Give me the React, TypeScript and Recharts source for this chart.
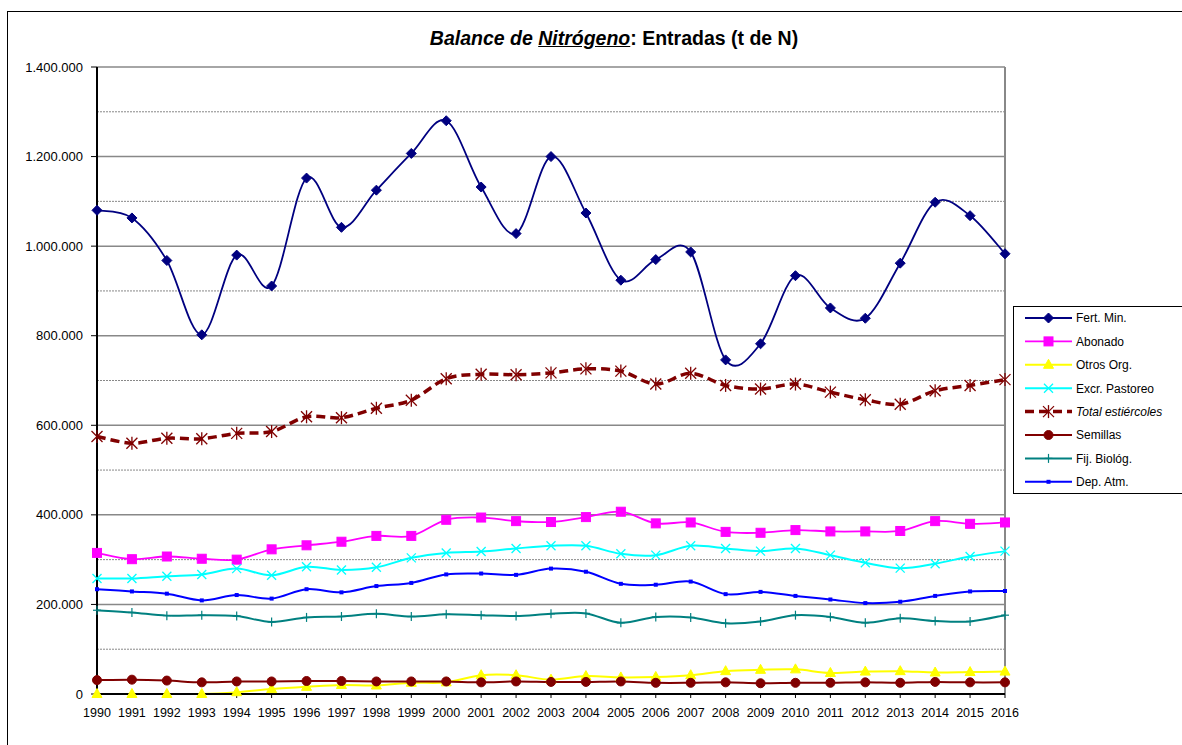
import React from 'react'
import { CartesianGrid, Line, LineChart, ReferenceLine, XAxis, YAxis } from 'recharts'

const YEARS = [
  '1990', '1991', '1992', '1993', '1994', '1995', '1996', '1997', '1998', '1999', '2000', '2001', '2002', '2003',
  '2004', '2005', '2006', '2007', '2008', '2009', '2010', '2011', '2012', '2013', '2014', '2015', '2016',
]

const FERT_MIN = [
  1080000, 1063000, 968000, 802000, 980000, 911000, 1152000, 1042000, 1125000, 1207000, 1280000, 1132000, 1028000,
  1200000, 1074000, 924000, 970000, 987000, 746000, 782000, 934000, 862000, 839000, 962000, 1098000, 1068000, 983000,
]
const ABONADO = [
  315000, 301000, 307000, 302000, 300000, 323000, 332000, 340000, 353000, 353000, 389000, 394000, 386000, 384000,
  395000, 407000, 381000, 383000, 362000, 360000, 366000, 363000, 363000, 364000, 386000, 380000, 383000,
]
const OTROS_ORG = [
  0, 0, 0, 0, 4000, 11000, 16000, 20000, 19000, 25000, 26000, 42000, 42000, 32000, 40000, 37000, 38000, 42000, 51000,
  54000, 55000, 47000, 50000, 51000, 48000, 49000, 50000,
]
const EXCR_PASTOREO = [
  258000, 258000, 263000, 267000, 280000, 265000, 284000, 277000, 283000, 304000, 315000, 318000, 325000, 331000,
  331000, 313000, 310000, 331000, 325000, 319000, 325000, 310000, 293000, 281000, 291000, 307000, 319000,
]
const TOTAL_ESTIERCOLES = [
  575000, 560000, 571000, 570000, 582000, 586000, 619000, 617000, 638000, 656000, 704000, 714000, 713000, 717000,
  726000, 721000, 692000, 716000, 689000, 681000, 692000, 674000, 657000, 647000, 677000, 689000, 702000,
]
const SEMILLAS = [
  31000, 32000, 30000, 26000, 28000, 28000, 29000, 29000, 28000, 28000, 28000, 26000, 28000, 27000, 27000, 28000,
  25000, 25000, 26000, 24000, 25000, 25000, 26000, 25000, 27000, 26000, 26000,
]
const FIJ_BIOLOG = [
  187000, 182000, 175000, 176000, 174000, 161000, 171000, 173000, 179000, 173000, 178000, 176000, 174000, 179000,
  180000, 159000, 172000, 171000, 158000, 162000, 176000, 172000, 159000, 169000, 163000, 162000, 176000,
]
const DEP_ATM = [
  234000, 229000, 224000, 209000, 221000, 213000, 234000, 227000, 241000, 248000, 267000, 269000, 266000, 280000,
  273000, 246000, 244000, 251000, 223000, 228000, 219000, 211000, 203000, 206000, 219000, 229000, 230000,
]

const Y_TICKS = [0, 200000, 400000, 600000, 800000, 1000000, 1200000, 1400000]
const GRID_SOLID = [200000, 400000, 600000, 800000, 1000000, 1200000, 1400000]
const GRID_DOTTED = [100000, 300000, 500000, 700000, 900000, 1100000, 1300000]

const FONT = '"Liberation Sans", Arial, sans-serif'

type MarkerKind = 'diamond' | 'square' | 'triangle' | 'cross' | 'star' | 'circle' | 'plus' | 'dot'

const SERIES: { key: string; name: string; color: string; marker: MarkerKind; width: number; dash?: string; italic?: boolean }[] = [
  { key: 'fert', name: 'Fert. Min.', color: '#000080', marker: 'diamond', width: 1.8 },
  { key: 'abonado', name: 'Abonado', color: '#ff00ff', marker: 'square', width: 1.8 },
  { key: 'otros', name: 'Otros Org.', color: '#ffff00', marker: 'triangle', width: 2 },
  { key: 'excr', name: 'Excr. Pastoreo', color: '#00ffff', marker: 'cross', width: 2 },
  { key: 'total', name: 'Total estiércoles', color: '#800000', marker: 'star', width: 3.5, dash: '9 5', italic: true },
  { key: 'semillas', name: 'Semillas', color: '#800000', marker: 'circle', width: 2 },
  { key: 'fij', name: 'Fij. Biológ.', color: '#008080', marker: 'plus', width: 2 },
  { key: 'dep', name: 'Dep. Atm.', color: '#0000ff', marker: 'dot', width: 2 },
]

const data = YEARS.map((year, i) => ({
  year,
  fert: FERT_MIN[i],
  abonado: ABONADO[i],
  otros: OTROS_ORG[i],
  excr: EXCR_PASTOREO[i],
  total: TOTAL_ESTIERCOLES[i],
  semillas: SEMILLAS[i],
  fij: FIJ_BIOLOG[i],
  dep: DEP_ATM[i],
}))

// excel-style smoothing (uniform catmull-rom through every point)
function smoothCurve(context: any) {
  let pts: number[][] = []
  return {
    areaStart() {},
    areaEnd() {},
    lineStart() {
      pts = []
    },
    point(x: number, y: number) {
      pts.push([+x, +y])
    },
    lineEnd() {
      if (!pts.length) return
      context.moveTo(pts[0][0], pts[0][1])
      for (let i = 0; i < pts.length - 1; i++) {
        const p0 = pts[i - 1] || pts[i]
        const p1 = pts[i]
        const p2 = pts[i + 1]
        const p3 = pts[i + 2] || p2
        context.bezierCurveTo(
          p1[0] + (p2[0] - p0[0]) / 6,
          p1[1] + (p2[1] - p0[1]) / 6,
          p2[0] - (p3[0] - p1[0]) / 6,
          p2[1] - (p3[1] - p1[1]) / 6,
          p2[0],
          p2[1],
        )
      }
    },
  }
}

function Marker({ kind, x, y, color }: { kind: MarkerKind; x: number; y: number; color: string }) {
  switch (kind) {
    case 'diamond':
      return <polygon points={`${x},${y - 5} ${x + 5},${y} ${x},${y + 5} ${x - 5},${y}`} fill={color} stroke={color} />
    case 'square':
      return <rect x={x - 4.5} y={y - 4.5} width={9} height={9} fill={color} stroke={color} />
    case 'triangle':
      return <polygon points={`${x},${y - 5.5} ${x + 5},${y + 3.5} ${x - 5},${y + 3.5}`} fill={color} stroke={color} />
    case 'cross':
      return (
        <g stroke={color} strokeWidth={1.3}>
          <line x1={x - 4.5} y1={y - 4.5} x2={x + 4.5} y2={y + 4.5} />
          <line x1={x - 4.5} y1={y + 4.5} x2={x + 4.5} y2={y - 4.5} />
        </g>
      )
    case 'star':
      return (
        <g stroke={color} strokeWidth={1.3}>
          <line x1={x - 5.5} y1={y - 5.5} x2={x + 5.5} y2={y + 5.5} />
          <line x1={x - 5.5} y1={y + 5.5} x2={x + 5.5} y2={y - 5.5} />
          <line x1={x} y1={y - 6.5} x2={x} y2={y + 6.5} />
        </g>
      )
    case 'circle':
      return <circle cx={x} cy={y} r={4.5} fill={color} stroke={color} />
    case 'plus':
      return (
        <g stroke={color} strokeWidth={1.2}>
          <line x1={x - 4} y1={y} x2={x + 4} y2={y} />
          <line x1={x} y1={y - 4.5} x2={x} y2={y + 4.5} />
        </g>
      )
    default:
      return <rect x={x - 2} y={y - 2} width={4} height={4} fill={color} />
  }
}

function formatThousands(v: number) {
  return String(v).replace(/\B(?=(\d{3})+(?!\d))/g, '.')
}

function ChartLegend() {
  return (
    <div
      style={{
        position: 'absolute',
        left: 1013,
        top: 306,
        width: 200,
        height: 186,
        border: '1px solid #000',
        background: '#fff',
      }}
    >
      <svg width={200} height={186} style={{ display: 'block' }}>
        {SERIES.map((s, i) => {
          const y = 11 + i * 23.4
          return (
            <g key={s.key}>
              <line
                x1={11}
                x2={58}
                y1={y}
                y2={y}
                stroke={s.color}
                strokeWidth={s.width}
                strokeDasharray={s.dash}
              />
              <Marker kind={s.marker} x={34.5} y={y} color={s.color} />
              <text
                x={62}
                y={y + 4.3}
                fontFamily={FONT}
                fontSize={12}
                fontStyle={s.italic ? 'italic' : 'normal'}
                fill="#000"
              >
                {s.name}
              </text>
            </g>
          )
        })}
      </svg>
    </div>
  )
}

export default function App() {
  return (
    <div
      style={{
        position: 'absolute',
        left: 0,
        top: 0,
        width: 1182,
        height: 745,
        overflow: 'hidden',
        background: '#fff',
        fontFamily: FONT,
      }}
    >
      <div
        style={{
          position: 'absolute',
          left: 7,
          top: 11,
          width: 1250,
          height: 800,
          border: '1px solid #000',
        }}
      />
      <div
        style={{
          position: 'absolute',
          left: 364,
          top: 26,
          width: 500,
          textAlign: 'center',
          fontSize: 19.5,
          lineHeight: '24px',
          fontWeight: 'bold',
          color: '#000',
        }}
      >
        <span style={{ fontStyle: 'italic' }}>
          Balance de <span style={{ textDecoration: 'underline' }}>Nitrógeno</span>
        </span>
        : Entradas (t de N)
      </div>
      <div style={{ position: 'absolute', left: 0, top: 0 }}>
        <LineChart width={1182} height={745} data={data} margin={{ top: 67, right: 177, bottom: 21, left: 0 }}>
          <CartesianGrid horizontalValues={GRID_DOTTED} vertical={false} stroke="#888" strokeDasharray="2 1" />
          <CartesianGrid horizontalValues={GRID_SOLID} vertical={false} stroke="#888" strokeWidth={1.5} />
          <ReferenceLine x="2016" stroke="#888" strokeWidth={2} />
          <XAxis
            dataKey="year"
            height={30}
            interval={0}
            tickSize={4}
            tickMargin={10}
            axisLine={{ stroke: '#000', strokeWidth: 2 }}
            tickLine={{ stroke: '#000' }}
            tick={{ fill: '#000', fontSize: 12.5, fontFamily: FONT }}
          />
          <YAxis
            width={97}
            domain={[0, 1400000]}
            ticks={Y_TICKS}
            interval={0}
            tickSize={6}
            tickMargin={8}
            tickFormatter={formatThousands}
            axisLine={{ stroke: '#000', strokeWidth: 2 }}
            tickLine={{ stroke: '#000' }}
            tick={{ fill: '#000', fontSize: 13, fontFamily: FONT }}
          />
          {SERIES.map((s) => (
            <Line
              key={s.key}
              dataKey={s.key}
              name={s.name}
              type={smoothCurve as any}
              stroke={s.color}
              strokeWidth={s.width}
              strokeDasharray={s.dash}
              isAnimationActive={false}
              activeDot={false}
              dot={(p: any) => (
                <Marker key={`${s.key}-${p.index}`} kind={s.marker} x={p.cx} y={p.cy} color={s.color} />
              )}
            />
          ))}
        </LineChart>
      </div>
      <ChartLegend />
    </div>
  )
}
